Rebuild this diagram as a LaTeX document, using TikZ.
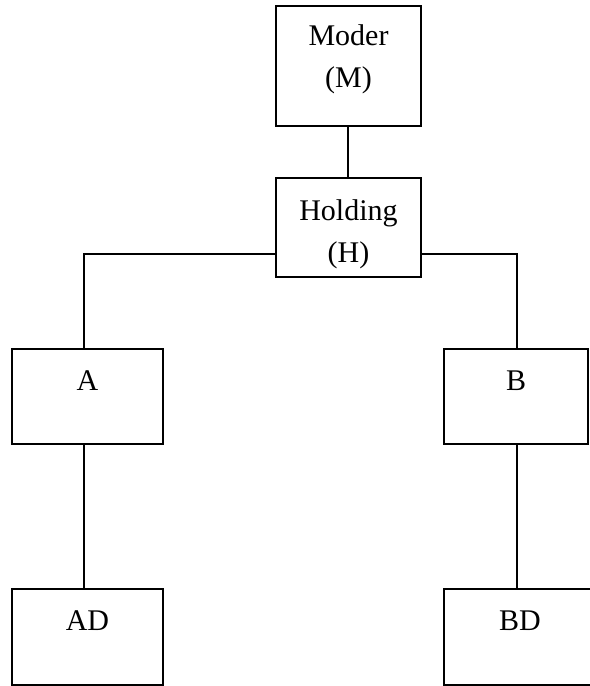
\documentclass[tikz,border=0pt]{standalone}
\usepackage{fontspec}
\setmainfont{Liberation Serif}
\usetikzlibrary{positioning}

\tikzset{
  firm/.style={draw, line width=1.7bp, inner sep=0pt, align=center,
    text height=41bp, font=\fontsize{30bp}{42bp}\selectfont},
  link/.style={line width=1.7bp}
}

\begin{document}
\begin{tikzpicture}[x=1bp, y=-1bp]
  \useasboundingbox (0, 0) rectangle (590, 686);

  % two-line boxes: the baseline is that of the last line
  \node[firm, minimum width=145bp, text height=82bp, text depth=38bp] (M) at (348.5, 66) {Moder\\(M)};
  \node[firm, minimum width=145bp, text height=84bp, text depth=15bp] (H) at (348.5, 227.5) {Holding\\(H)};

  \node[firm, minimum width=151bp, text depth=54bp] (A) at (87.5, 396.5) {A};
  \node[firm, minimum width=144bp, text depth=54bp] (B) at (516, 396.5) {B};
  \node[firm, minimum width=151bp, text depth=55bp] (AD) at (87.5, 637) {AD};
  \node[firm, minimum width=152bp, text depth=55bp] (BD) at (520, 637) {BD};

  \draw[link] ([xshift=-0.5bp]M.south) -- ([xshift=-0.5bp]H.north);
  \draw[link] (H.south west) ++(0, -24) -| ([xshift=-3.5bp]A.north);
  \draw[link] (H.south east) ++(0, -24) -| ([xshift=1bp]B.north);
  \draw[link] ([xshift=-3.5bp]A.south) -- ([xshift=-3.5bp]AD.north);
  \draw[link] ([xshift=1bp]B.south) -- ([xshift=1bp]B.south |- BD.north);
\end{tikzpicture}
\end{document}
